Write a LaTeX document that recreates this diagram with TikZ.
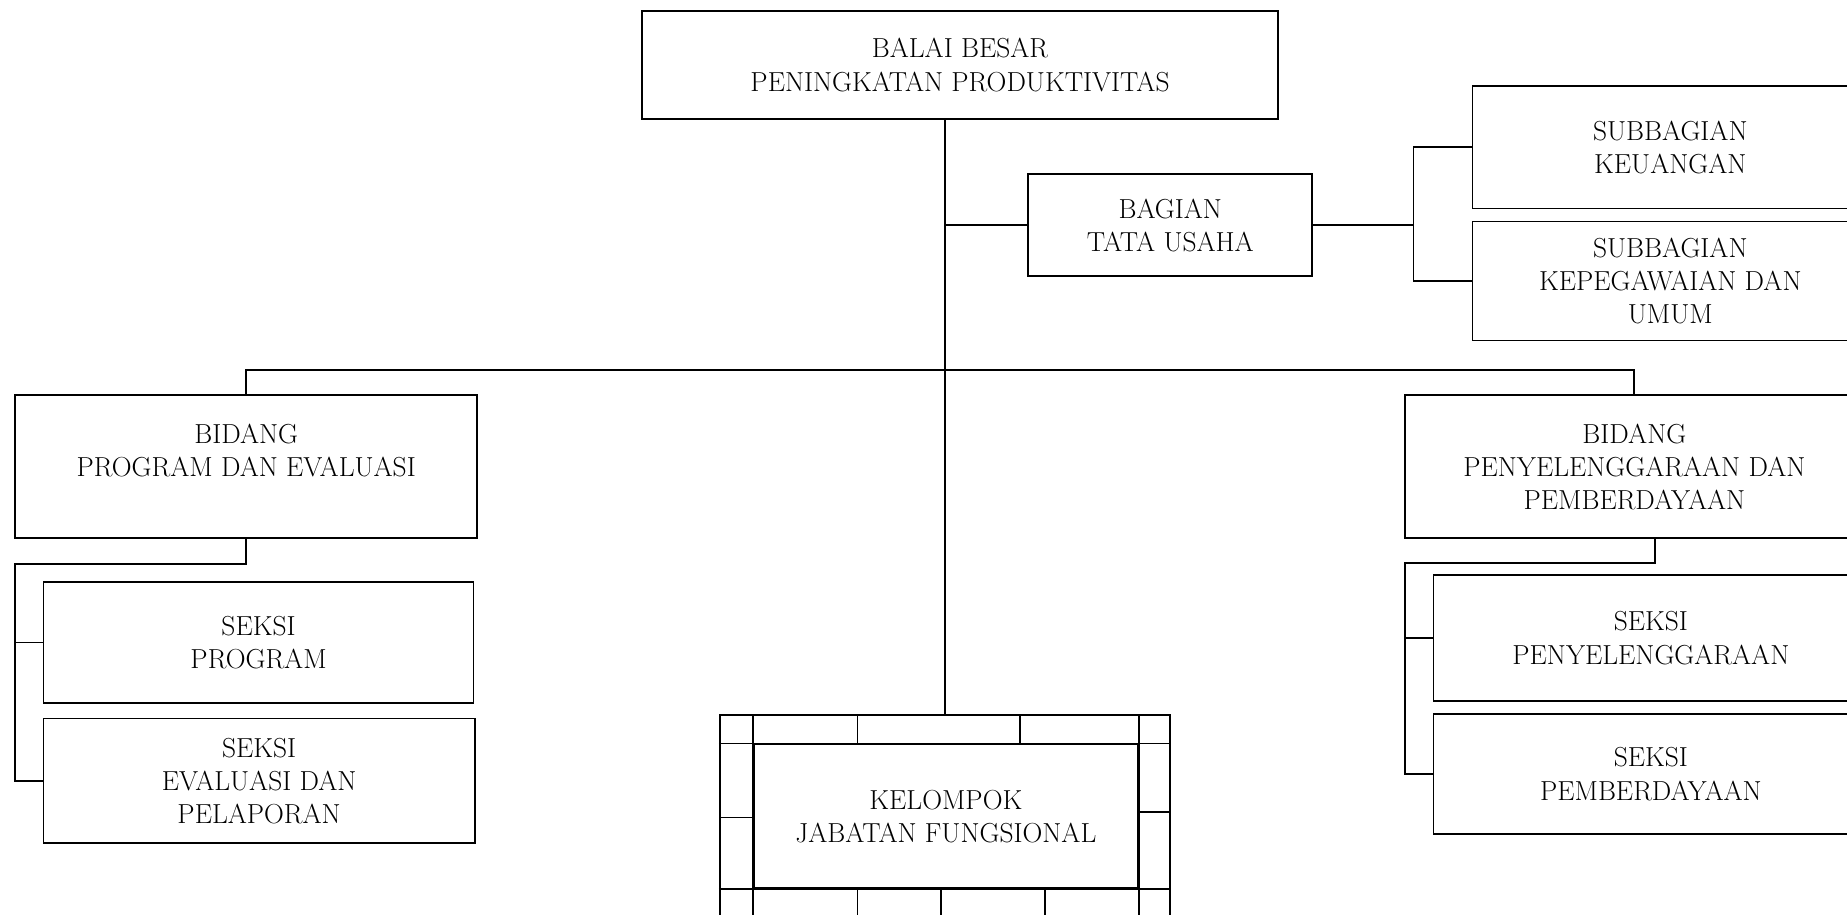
\documentclass[tikz,border=0pt]{standalone}
\usepackage{fontspec}
\usetikzlibrary{positioning}
\newcommand{\px}{0.025cm}
\tikzset{
  unit/.style={draw, line width=1.1pt, align=center, inner sep=0pt,
    text depth=0pt, font=\fontsize{16.6}{20}\selectfont},
  link/.style={line width=1.1pt},
}

\begin{document}
\begin{tikzpicture}[x=\px, y=-\px]
    \useasboundingbox (0,0) rectangle (1568,776);

    % Head office
    \node[unit, minimum width=540*\px, minimum height=92*\px] (balai) at (815,55)
        {BALAI BESAR\\PENINGKATAN PRODUKTIVITAS};

    % Administration and its subsections
    \node[unit, minimum width=241*\px, minimum height=86*\px] (tu) at (993.5,191)
        {BAGIAN\\TATA USAHA};
    \node[unit, minimum width=336*\px, minimum height=104*\px] (keu) at (1418,125)
        {SUBBAGIAN\\KEUANGAN};
    \node[unit, minimum width=336*\px, minimum height=101*\px] (peg) at (1418,238.5)
        {SUBBAGIAN\\KEPEGAWAIAN DAN\\UMUM};

    % Left division
    \node[unit, minimum width=392*\px, minimum height=122*\px] (bprog) at (209,396)
        {BIDANG\\PROGRAM DAN EVALUASI\\\mbox{}};
    \node[unit, minimum width=365*\px, minimum height=103*\px] (sprog) at (219.5,545.5)
        {SEKSI\\PROGRAM};
    \node[unit, minimum width=366*\px, minimum height=106*\px] (seval) at (220,663)
        {SEKSI\\EVALUASI DAN\\PELAPORAN};

    % Right division
    \node[unit, minimum width=389*\px, minimum height=122*\px] (bpen) at (1387.5,396)
        {BIDANG\\PENYELENGGARAAN DAN\\PEMBERDAYAAN};
    \node[unit, minimum width=369*\px, minimum height=107*\px] (spen) at (1401.5,541.5)
        {SEKSI\\PENYELENGGARAAN};
    \node[unit, minimum width=369*\px, minimum height=102*\px] (sber) at (1401.5,657)
        {SEKSI\\PEMBERDAYAAN};

    % Functional group with its framed border
    \node[unit, minimum width=382*\px, minimum height=193*\px] (kel) at (802,703.5) {};
    \node[unit, minimum width=326*\px, minimum height=122*\px] (kin) at (803,693)
        {KELOMPOK\\JABATAN FUNGSIONAL};
    \draw[link] (kel.west |- kin.north) -- (kel.east |- kin.north);
    \draw[link] (kel.west |- kin.south) -- (kel.east |- kin.south);
    \draw[link] (kin.north west |- kel.north) -- (kin.south west |- kel.south);
    \draw[link] (kin.north east |- kel.north) -- (kin.south east |- kel.south);
    \foreach \x in {728,866}
        \draw[link] (\x,607) -- (\x,632);
    \foreach \x in {728,799,887}
        \draw[link] (\x,754) -- (\x,800);
    \draw[link] (611,694) -- (640,694);
    \draw[link] (966,689) -- (993,689);

    % Connectors
    \draw[link] (balai.south -| kel.north) -- (kel.north);
    \draw[link] (tu.west) -- (tu.west -| kel.north);
    \coordinate (tubus) at (1200,191);
    \draw[link] (tu.east) -- (tubus);
    \draw[link] (keu.west) -| (tubus) |- (peg.west);

    \coordinate (hbus) at (802,314);
    \draw[link] (bprog.north) |- (hbus) -| (bpen.north);

    \coordinate (lbus) at (13,479);
    \draw[link] (bprog.south) |- (lbus) |- (seval.west);
    \draw[link] (sprog.west) -- (sprog.west -| lbus);

    \coordinate (rbus) at (1193,478);
    \coordinate (rdrop) at (1405,478);
    \draw[link] (rdrop |- bpen.south) -- (rdrop) -- (rbus) |- (sber.west);
    \draw[link] (spen.west) -- (spen.west -| rbus);
\end{tikzpicture}
\end{document}
